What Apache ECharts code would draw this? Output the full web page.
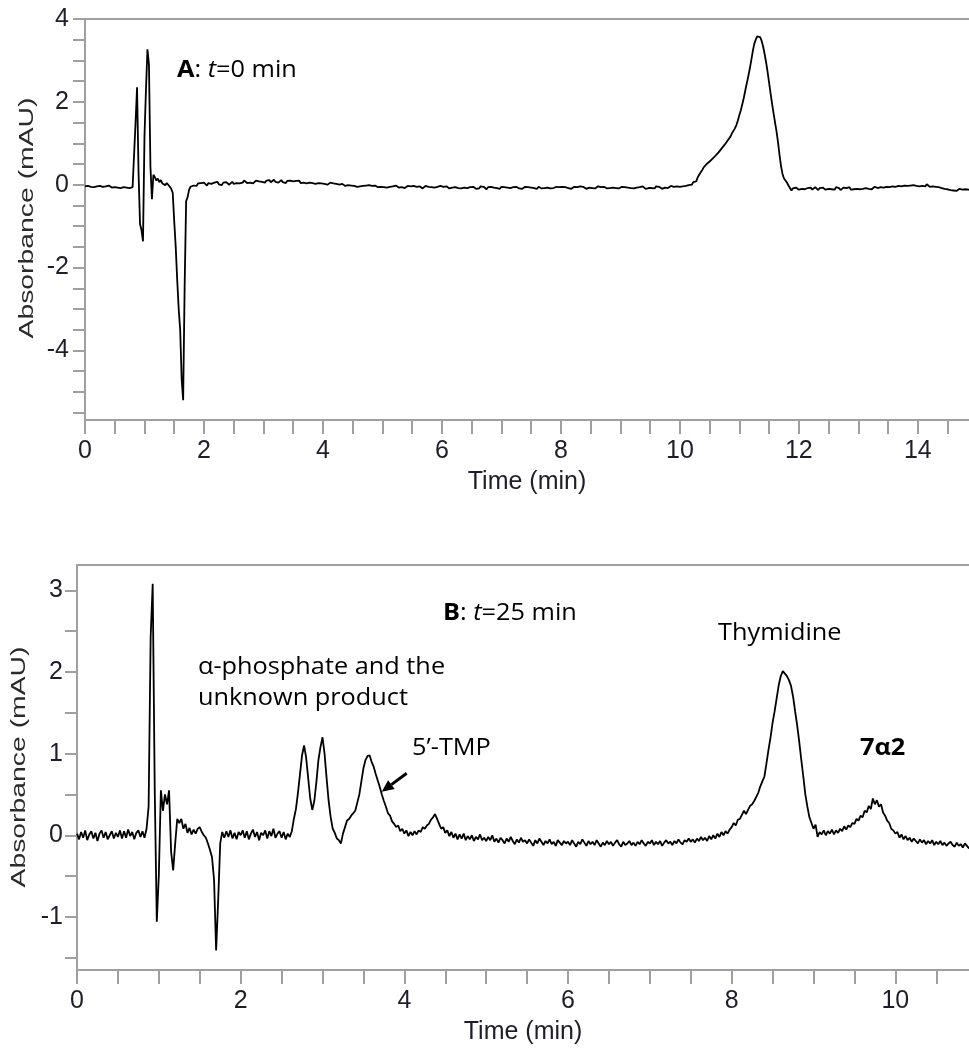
<!DOCTYPE html>
<html>
<head>
<meta charset="utf-8">
<script src="https://cdn.jsdelivr.net/npm/echarts@6/dist/echarts.min.js"></script>
<style>
html,body{margin:0;padding:0;background:#fff;}
#chart{width:969px;height:1052px;}
</style>
</head>
<body>
<div id="chart"></div>
<script>
// ---------- Tick / label values ----------
const xTicksA = [0,0.5,1,1.5,2,2.5,3,3.5,4,4.5,5,5.5,6,6.5,7,7.5,8,8.5,9,9.5,10,10.5,11,11.5,12,12.5,13,13.5,14,14.5];
const xLabelsA = [0,2,4,6,8,10,12,14];
const yTicksA = [-5.5,-5,-4.5,-4,-3.5,-3,-2.5,-2,-1.5,-1,-0.5,0,0.5,1,1.5,2,2.5,3,3.5,4];
const yLabelsA = [-4,-2,0,2,4];
const xTicksB = [0,0.5,1,1.5,2,2.5,3,3.5,4,4.5,5,5.5,6,6.5,7,7.5,8,8.5,9,9.5,10,10.5];
const xLabelsB = [0,2,4,6,8,10];
const yTicksB = [-1.5,-1,-0.5,0,0.5,1,1.5,2,2.5,3];
const yLabelsB = [-1,0,1,2,3];

// ---------- Detector sampling interval (min) ----------
const dtA = 0.025;
const dtB = 0.025;

// ---------- Chromatogram A (t = 0 min), absorbance in mAU, one row = 0.5 min ----------
const absA = [
 -0.04,-0.06,-0.03,-0.07,-0.05,-0.02,-0.06,-0.08,-0.04,-0.06,-0.03,-0.07,-0.05,-0.09,-0.04,-0.06,-0.02,-0.05,-0.07,-0.04,
 -0.06,-0.03,-0.07,-0.05,-0.08,-0.04,-0.06,-0.03,-0.07,-0.05,-0.08,-0.04,-0.06,-0.03,1.5,2.35,0.3,-0.95,-1.1,-1.37,
 1.17,2.3,3.27,2.9,0.44,-0.35,0.24,0.18,0.1,0.15,0.06,0.11,0.03,0.07,-0.01,0.04,0.0,-0.05,-0.1,-0.2,
 -0.89,-1.5,-2.3,-3.0,-3.5,-4.7,-5.2,-2.46,-0.4,-0.3,-0.12,-0.05,-0.08,-0.02,0.01,-0.03,0.03,-0.01,0.04,0.0,
 0.05,0.01,-0.02,0.04,0.06,0.02,0.0,0.05,0.03,0.07,0.01,0.04,-0.01,0.05,0.02,0.06,0.03,0.0,0.04,0.07,
 0.02,0.06,0.04,0.08,0.03,0.07,0.05,0.1,0.06,0.04,0.08,0.05,0.09,0.03,0.07,0.1,0.06,0.08,0.12,0.07,
 0.09,0.05,0.1,0.07,0.11,0.06,0.08,0.12,0.07,0.1,0.05,0.09,0.11,0.06,0.08,0.04,0.09,0.07,0.1,0.06,
 0.08,0.05,0.09,0.06,0.1,0.04,0.07,0.05,0.08,0.03,0.07,0.05,0.09,0.04,0.06,0.02,0.06,0.04,0.07,0.03,
 0.05,0.02,0.04,0.0,0.03,0.05,0.01,0.03,-0.01,0.02,0.04,0.0,-0.02,0.02,0.01,-0.03,0.01,-0.01,0.02,-0.02,
 0.0,-0.03,-0.01,-0.05,-0.02,-0.04,0.0,-0.03,-0.06,-0.02,-0.04,-0.01,-0.05,-0.03,-0.07,-0.02,-0.04,-0.06,-0.03,-0.05,
 -0.02,-0.06,-0.04,-0.07,-0.03,-0.05,-0.08,-0.04,-0.06,-0.02,-0.05,-0.07,-0.03,-0.06,-0.04,-0.08,-0.05,-0.03,-0.07,-0.04,
 -0.06,-0.03,-0.07,-0.05,-0.08,-0.04,-0.06,-0.09,-0.05,-0.03,-0.07,-0.05,-0.08,-0.06,-0.04,-0.07,-0.09,-0.05,-0.06,-0.03,
 -0.07,-0.05,-0.08,-0.04,-0.06,-0.09,-0.05,-0.07,-0.1,-0.06,-0.04,-0.08,-0.06,-0.09,-0.05,-0.07,-0.04,-0.08,-0.1,-0.06,
 -0.08,-0.05,-0.07,-0.1,-0.06,-0.09,-0.04,-0.07,-0.05,-0.08,-0.11,-0.06,-0.08,-0.05,-0.09,-0.07,-0.04,-0.08,-0.06,-0.1,
 -0.05,-0.08,-0.06,-0.09,-0.07,-0.04,-0.08,-0.1,-0.06,-0.08,-0.05,-0.07,-0.09,-0.06,-0.1,-0.07,-0.05,-0.08,-0.06,-0.09,
 -0.07,-0.04,-0.08,-0.06,-0.1,-0.05,-0.07,-0.09,-0.06,-0.08,-0.04,-0.07,-0.05,-0.09,-0.06,-0.08,-0.1,-0.05,-0.07,-0.06,
 -0.08,-0.05,-0.09,-0.06,-0.04,-0.08,-0.06,-0.1,-0.07,-0.05,-0.08,-0.06,-0.09,-0.04,-0.07,-0.05,-0.08,-0.1,-0.06,-0.07,
 -0.05,-0.08,-0.06,-0.09,-0.07,-0.04,-0.08,-0.06,-0.1,-0.05,-0.07,-0.09,-0.06,-0.08,-0.05,-0.07,-0.04,-0.08,-0.06,-0.09,
 -0.07,-0.05,-0.08,-0.06,-0.1,-0.07,-0.04,-0.08,-0.06,-0.09,-0.05,-0.07,-0.09,-0.06,-0.08,-0.04,-0.07,-0.1,-0.06,-0.08,
 -0.05,-0.08,-0.06,-0.09,-0.04,-0.07,-0.05,-0.08,-0.1,-0.06,-0.07,-0.04,-0.08,-0.06,-0.03,-0.07,-0.05,-0.08,-0.04,-0.06,
 -0.05,-0.08,-0.04,-0.06,-0.03,-0.05,-0.01,0.02,0.0,0.06,0.1,0.08,0.18,0.22,0.3,0.35,0.42,0.45,0.5,0.49,
 0.56,0.58,0.63,0.62,0.7,0.73,0.78,0.8,0.87,0.9,0.96,1.0,1.06,1.1,1.16,1.24,1.3,1.36,1.44,1.55,
 1.68,1.8,1.95,2.1,2.28,2.45,2.62,2.8,3.0,3.22,3.4,3.5,3.58,3.6,3.56,3.47,3.33,3.15,2.95,2.72,
 2.46,2.2,1.95,1.72,1.5,1.28,1.02,0.72,0.45,0.26,0.15,0.1,0.05,-0.02,-0.08,-0.14,-0.09,-0.12,-0.07,-0.1,
 -0.12,-0.08,-0.1,-0.06,-0.11,-0.13,-0.08,-0.1,-0.07,-0.12,-0.09,-0.06,-0.1,-0.13,-0.08,-0.11,-0.07,-0.1,-0.12,-0.08,
 -0.1,-0.07,-0.11,-0.09,-0.12,-0.06,-0.1,-0.08,-0.13,-0.09,-0.07,-0.11,-0.08,-0.1,-0.06,-0.12,-0.09,-0.11,-0.07,-0.1,
 -0.08,-0.11,-0.07,-0.1,-0.12,-0.08,-0.06,-0.1,-0.09,-0.11,-0.07,-0.05,-0.09,-0.08,-0.11,-0.06,-0.09,-0.07,-0.1,-0.05,
 -0.08,-0.06,-0.09,-0.04,-0.07,-0.05,-0.08,-0.03,-0.06,-0.04,-0.07,-0.02,-0.05,-0.03,-0.06,-0.02,-0.04,-0.01,-0.05,-0.03,
 -0.01,-0.04,0.0,-0.03,-0.01,-0.04,0.01,-0.02,-0.05,-0.02,-0.04,-0.01,-0.05,-0.03,-0.06,-0.04,-0.08,-0.06,-0.1,-0.08,
 -0.11,-0.09,-0.13,-0.1,-0.14,-0.11,-0.15,-0.12,-0.1,-0.14,-0.12,-0.16,-0.11,-0.14,-0.12,-0.15,-0.13,-0.1,-0.14,-0.12
];

// ---------- Chromatogram B (t = 25 min), absorbance in mAU, one row = 0.5 min ----------
const absB = [
 0.02,-0.05,0.04,-0.03,0.06,-0.06,0.01,0.05,-0.04,0.03,-0.07,0.02,0.06,-0.03,0.04,-0.05,0.0,0.05,-0.04,0.03,
 -0.02,0.06,-0.04,0.05,-0.03,0.07,-0.01,0.04,-0.05,0.03,0.06,-0.02,0.05,-0.03,0.08,0.35,2.43,3.08,0.55,-1.06,
 -0.49,0.55,0.3,0.5,0.38,0.55,-0.2,-0.43,-0.1,0.2,0.15,0.2,0.08,0.14,0.03,0.09,0.01,0.07,0.02,0.08,
 0.1,0.04,0.0,-0.03,-0.1,-0.18,-0.27,-0.55,-1.41,-0.8,-0.1,0.04,-0.03,0.05,-0.02,0.06,-0.04,0.03,-0.05,0.04,
 0.0,0.06,-0.03,0.05,-0.05,0.02,0.07,-0.02,0.04,-0.06,0.03,0.0,0.06,-0.04,0.05,-0.01,0.08,-0.03,0.02,0.05,
 -0.03,0.04,-0.05,0.02,-0.02,0.05,0.2,0.32,0.52,0.75,0.98,1.1,0.95,0.7,0.45,0.31,0.42,0.65,0.92,1.08,
 1.2,1.0,0.7,0.42,0.22,0.08,0.03,-0.04,-0.06,-0.1,0.02,0.1,0.18,0.2,0.24,0.27,0.3,0.4,0.5,0.66,
 0.82,0.92,0.97,0.98,0.9,0.84,0.75,0.67,0.59,0.5,0.42,0.35,0.27,0.24,0.17,0.14,0.1,0.12,0.05,0.08,
 0.02,0.06,-0.01,0.04,0.0,0.05,0.01,0.06,0.04,0.1,0.08,0.12,0.14,0.19,0.22,0.26,0.2,0.14,0.08,0.1,
 0.03,0.06,-0.01,0.04,-0.03,0.02,-0.05,0.01,-0.04,0.02,-0.06,-0.01,-0.05,0.0,-0.07,-0.02,-0.05,0.01,-0.06,-0.03,
 -0.07,-0.02,-0.06,0.0,-0.08,-0.04,-0.09,-0.03,-0.06,-0.1,-0.04,-0.08,-0.02,-0.07,-0.11,-0.05,-0.09,-0.03,-0.08,-0.06,
 -0.1,-0.05,-0.09,-0.13,-0.06,-0.1,-0.04,-0.08,-0.12,-0.07,-0.1,-0.05,-0.11,-0.08,-0.13,-0.06,-0.09,-0.12,-0.07,-0.1,
 -0.08,-0.12,-0.06,-0.1,-0.14,-0.08,-0.11,-0.05,-0.09,-0.13,-0.07,-0.11,-0.08,-0.12,-0.06,-0.1,-0.14,-0.09,-0.12,-0.07,
 -0.11,-0.08,-0.13,-0.09,-0.06,-0.11,-0.14,-0.08,-0.12,-0.1,-0.07,-0.12,-0.09,-0.13,-0.08,-0.11,-0.06,-0.1,-0.13,-0.08,
 -0.1,-0.06,-0.12,-0.08,-0.11,-0.07,-0.13,-0.09,-0.06,-0.1,-0.08,-0.12,-0.07,-0.1,-0.05,-0.09,-0.11,-0.06,-0.08,-0.04,
 -0.08,-0.05,-0.09,-0.04,-0.07,-0.02,-0.06,-0.03,-0.07,-0.01,-0.05,0.0,-0.04,0.02,-0.02,0.04,0.0,0.05,0.02,0.07,
 0.1,0.15,0.12,0.19,0.2,0.25,0.3,0.26,0.31,0.36,0.38,0.42,0.47,0.52,0.6,0.66,0.72,0.88,1.05,1.2,
 1.38,1.52,1.68,1.84,1.95,2.01,1.98,1.95,1.9,1.83,1.7,1.52,1.35,1.15,0.93,0.72,0.5,0.35,0.22,0.15,
 0.08,0.13,-0.02,0.04,0.01,0.06,0.0,0.05,0.02,0.07,0.01,0.06,0.03,0.08,0.05,0.11,0.07,0.12,0.1,0.15,
 0.14,0.2,0.18,0.24,0.22,0.3,0.28,0.36,0.32,0.45,0.38,0.43,0.35,0.38,0.28,0.24,0.18,0.15,0.08,0.06,
 0.02,0.04,-0.03,0.01,-0.05,-0.01,-0.06,-0.03,-0.08,-0.04,-0.07,-0.1,-0.05,-0.09,-0.06,-0.11,-0.07,-0.1,-0.06,-0.12,
 -0.08,-0.11,-0.07,-0.12,-0.09,-0.13,-0.1,-0.08,-0.12,-0.14,-0.09,-0.13,-0.11,-0.15,-0.1,-0.13,-0.16,-0.11,-0.14,-0.12
];

const AXIS_COLOR = '#a0a0a0';
const LABEL_COLOR = '#1e1e2a';
const AXIS_FONT = '"Liberation Sans", Arial, sans-serif';
const NOTE_FONT = '"Open Sans", "Noto Sans", sans-serif';

const seriesA = absA.map((v, i) => [i * dtA, v]);
const seriesB = absB.map((v, i) => [i * dtB, v]);

function bottomAxis(grid, max, ticks, labels) {
  return {
    type: 'value', gridIndex: grid, position: 'bottom', min: 0, max: max,
    name: 'Time (min)', nameLocation: 'middle', nameGap: 50,
    nameTextStyle: {fontFamily: AXIS_FONT, fontSize: 25, color: LABEL_COLOR},
    axisLine: {show: true, onZero: false, lineStyle: {color: AXIS_COLOR, width: 2}},
    axisTick: {show: true, inside: false, length: 14, customValues: ticks, lineStyle: {color: AXIS_COLOR, width: 2}},
    axisLabel: {show: true, customValues: labels, margin: 19, fontFamily: AXIS_FONT, fontSize: 25, color: LABEL_COLOR},
    splitLine: {show: false}
  };
}
function topAxis(grid, max) {
  return {
    type: 'value', gridIndex: grid, position: 'top', min: 0, max: max,
    axisLine: {show: true, onZero: false, lineStyle: {color: AXIS_COLOR, width: 2}},
    axisTick: {show: false}, axisLabel: {show: false}, splitLine: {show: false}
  };
}
function leftAxis(grid, min, max, ticks, labels, margin) {
  return {
    type: 'value', gridIndex: grid, min: min, max: max,
    axisLine: {show: true, onZero: false, lineStyle: {color: AXIS_COLOR, width: 2}},
    axisTick: {show: true, inside: false, length: 12, customValues: ticks, lineStyle: {color: AXIS_COLOR, width: 2}},
    axisLabel: {show: true, customValues: labels, margin: margin, fontFamily: AXIS_FONT, fontSize: 25, color: LABEL_COLOR},
    splitLine: {show: false}
  };
}

const chart = echarts.init(document.getElementById('chart'), null, {renderer: 'canvas'});
const noteStyle = {fontFamily: NOTE_FONT, fontSize: 23, fill: '#000'};
const richAB = {b: {fontWeight: 'bold', fontFamily: NOTE_FONT, fontSize: 23}, i: {fontStyle: 'italic', fontFamily: NOTE_FONT, fontSize: 23}};

chart.setOption({
  animation: false,
  backgroundColor: '#fff',
  grid: [
    {left: 85, top: 19, width: 884, height: 401},
    {left: 77, top: 565, width: 892, height: 405}
  ],
  xAxis: [
    bottomAxis(0, 14.86, xTicksA, xLabelsA),
    topAxis(0, 14.86),
    bottomAxis(1, 10.9, xTicksB, xLabelsB),
    topAxis(1, 10.9)
  ],
  yAxis: [
    leftAxis(0, -5.68, 4, yTicksA, yLabelsA, 16),
    leftAxis(1, -1.65, 3.31, yTicksB, yLabelsB, 14)
  ],
  series: [
    {type: 'line', xAxisIndex: 0, yAxisIndex: 0, data: seriesA, showSymbol: false, symbol: 'none',
     lineStyle: {color: '#000', width: 1.8}, silent: true},
    {type: 'line', xAxisIndex: 2, yAxisIndex: 1, data: seriesB, showSymbol: false, symbol: 'none',
     lineStyle: {color: '#000', width: 1.8}, silent: true}
  ],
  graphic: [
    {type: 'text', x: 27, y: 218, rotation: Math.PI / 2, scaleX: 1.35,
     style: {text: 'Absorbance (mAU)', fontFamily: AXIS_FONT, fontSize: 21, fill: '#2a2a2a', align: 'center', verticalAlign: 'middle'}},
    {type: 'text', x: 19, y: 767, rotation: Math.PI / 2, scaleX: 1.35,
     style: {text: 'Absorbance (mAU)', fontFamily: AXIS_FONT, fontSize: 21, fill: '#2a2a2a', align: 'center', verticalAlign: 'middle'}},
    {type: 'text', x: 177, y: 70, scaleX: 1.1,
     style: Object.assign({}, noteStyle, {text: '{b|A}: {i|t}=0 min', verticalAlign: 'middle', rich: richAB})},
    {type: 'text', x: 443, y: 613, scaleX: 1.1,
     style: Object.assign({}, noteStyle, {text: '{b|B}: {i|t}=25 min', verticalAlign: 'middle', rich: richAB})},
    {type: 'text', x: 198, y: 682.5, scaleX: 1.1,
     style: Object.assign({}, noteStyle, {text: 'α-phosphate and the\nunknown product', lineHeight: 31, verticalAlign: 'middle'})},
    {type: 'text', x: 412, y: 748, scaleX: 1.1,
     style: Object.assign({}, noteStyle, {text: '5’-TMP', verticalAlign: 'middle'})},
    {type: 'text', x: 718, y: 633, scaleX: 1.1,
     style: Object.assign({}, noteStyle, {text: 'Thymidine', verticalAlign: 'middle'})},
    {type: 'text', x: 860, y: 748, scaleX: 1.1,
     style: Object.assign({}, noteStyle, {text: '7α2', fontWeight: 'bold', verticalAlign: 'middle'})},
    {type: 'line', shape: {x1: 406.7, y1: 773.3, x2: 391.4, y2: 784.6}, style: {stroke: '#000', lineWidth: 3}},
    {type: 'polygon', shape: {points: [[381.7, 791.7], [394.7, 789.0], [388.1, 780.2]]}, style: {fill: '#000'}}
  ]
});
</script>
</body>
</html>
